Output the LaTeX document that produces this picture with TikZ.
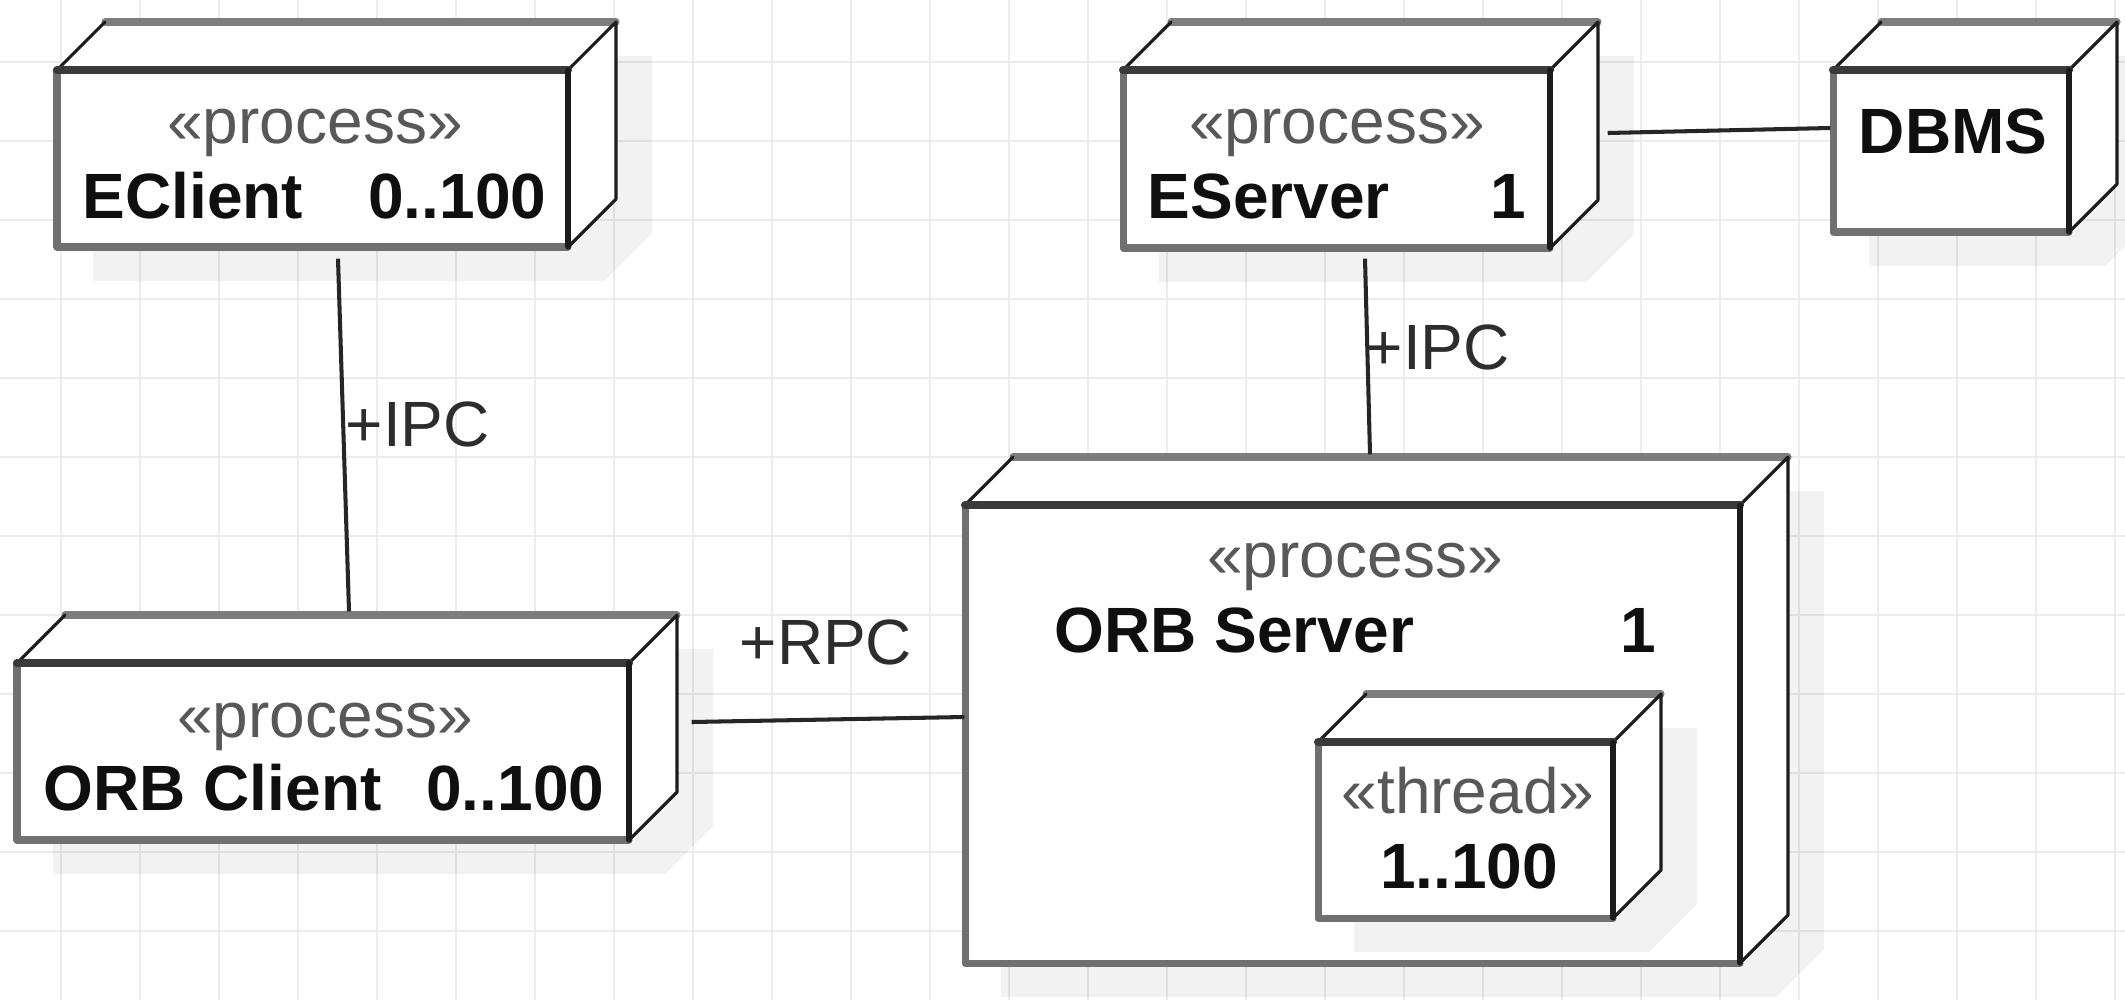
\documentclass[tikz,border=0pt]{standalone}
\usepackage{fontspec}
\setmainfont{Liberation Sans}
\usetikzlibrary{calc,fit}
\definecolor{gridc}{RGB}{236,236,236}
\definecolor{boxgray}{RGB}{112,112,112}
\definecolor{backgray}{RGB}{125,125,125}
\definecolor{boxdark}{RGB}{58,58,58}
\definecolor{edgeblack}{RGB}{28,28,28}
\definecolor{stereoc}{RGB}{88,88,88}
\definecolor{labelc}{RGB}{45,45,45}
\definecolor{connc}{RGB}{38,38,38}
\definecolor{namec}{RGB}{15,15,15}
\tikzset{
  frontgray/.style={draw=boxgray, line width=2pt, line cap=round, line join=round},
  fronttop/.style={draw=boxdark, line width=2.3pt, line cap=round},
  frontright/.style={draw=edgeblack, line width=1.5pt, line cap=round},
  backtop/.style={draw=backgray, line width=2pt, line cap=round},
  thinedge/.style={draw=edgeblack, line width=0.9pt, line cap=round, line join=round},
  shadowfill/.style={fill=black, fill opacity=0.05},
  stereo/.style={text=stereoc, font=\fontsize{18.2pt}{22pt}\selectfont, inner sep=0pt, anchor=base},
  nametext/.style={text=namec, font=\fontsize{18.2pt}{22pt}\selectfont\bfseries, inner sep=0pt},
  conlabel/.style={text=labelc, font=\fontsize{18.2pt}{22pt}\selectfont, inner sep=0pt, anchor=base west},
  conn/.style={draw=connc, line width=1.15pt},
}
\newcommand{\umlcube}[5]{%
  \fill[shadowfill] ({#2+36},{#3+34}) -- ({#2+84},{#3-14}) -- ({#4+84},{#3-14}) -- ({#4+84},{#5-14}) -- ({#4+36},{#5+34}) -- ({#2+36},{#5+34}) -- cycle;
  \fill[white] (#2,#3) -- ({#2+48},{#3-48}) -- ({#4+48},{#3-48}) -- ({#4+48},{#5-48}) -- (#4,#5) -- (#2,#5) -- cycle;
  \draw[backtop] ({#2+48},{#3-48}) -- ({#4+48},{#3-48});
  \draw[thinedge] (#2,#3) -- ({#2+48},{#3-48});
  \draw[thinedge] (#4,#3) -- ({#4+48},{#3-48}) -- ({#4+48},{#5-48}) -- (#4,#5);
  \draw[frontgray] (#4,#5) -- (#2,#5) -- (#2,#3);
  \draw[fronttop] (#2,#3) -- (#4,#3);
  \draw[frontright] (#4,#3) -- (#4,#5);
  \coordinate (#1-nw) at (#2,#3);
  \coordinate (#1-se) at (#4,#5);
  \node[fit=(#1-nw)(#1-se), inner sep=0pt] (#1) {};
}
\begin{document}
\begin{tikzpicture}[x=0.01cm, y=-0.01cm]
\useasboundingbox (0,0) rectangle (2125,1000);
\fill[white] (0,0) rectangle (2125,1000);
% grid
\foreach \gx in {0,...,26} {
  \draw[gridc, line width=0.8pt] ({61+79*\gx},0) -- ({61+79*\gx},1000);
}
\foreach \gy in {0,...,12} {
  \draw[gridc, line width=0.8pt] (0,{62+79*\gy}) -- (2125,{62+79*\gy});
}
% boxes
\umlcube{eclient}{57}{70}{568}{247}
\umlcube{eserver}{1123}{70}{1550}{248}
\umlcube{dbms}{1833}{70}{2069}{232}
\umlcube{orbclient}{17}{663}{629}{840}
\umlcube{orbserver}{965}{505}{1740}{963}
\umlcube{thread}{1318}{742}{1613}{918}
% texts
\node[stereo] (eclientst) at (315,143) {«process»};
\node[nametext, anchor=base west] (eclientnm) at (82,218) {EClient};
\node[nametext, anchor=base east] (eclientmu) at (547,218) {0..100};
\node[stereo] (eserverst) at (1337,143) {«process»};
\node[nametext, anchor=base west] (eservernm) at (1147,218) {EServer};
\node[nametext, anchor=base east] (eservermu) at (1527,218) {1};
\node[nametext, anchor=base] (dbmsnm) at (1953,153) {DBMS};
\node[stereo] (orbclientst) at (325,737) {«process»};
\node[nametext, anchor=base west] (orbclientnm) at (43,810) {ORB Client};
\node[nametext, anchor=base east] (orbclientmu) at (605,810) {0..100};
\node[stereo] (orbserverst) at (1355,577) {«process»};
\node[nametext, anchor=base west] (orbservernm) at (1054,652) {ORB Server};
\node[nametext, anchor=base east] (orbservermu) at (1657,652) {1};
\node[stereo] (threadst) at (1468,813) {«thread»};
\node[nametext, anchor=base] (threadmu) at (1469,888) {1..100};
% connectors
\coordinate (c1a) at ($(eclient.south)+(25.5,11)$);
\coordinate (c1b) at ($(orbclient.north)+(26,-51)$);
\draw[conn] (c1a) -- (c1b);
\coordinate (c2a) at ($(eserver.south)+(28.5,10)$);
\coordinate (c2b) at ($(orbserver.north)+(17.5,-50)$);
\draw[conn] (c2a) -- (c2b);
\coordinate (c3a) at ($(eserver.east)+(57,-26)$);
\coordinate (c3b) at ($(dbms.west)+(-2,-23)$);
\draw[conn] (c3a) -- (c3b);
\coordinate (c4a) at ($(orbclient.east)+(62,-29.5)$);
\coordinate (c4b) at ($(orbserver.west)+(0,-17)$);
\draw[conn] (c4a) -- (c4b);
% connector labels
\node[conlabel] (lipc1) at (345,446) {+IPC};
\node[conlabel] (lipc2) at (1365,369) {+IPC};
\node[conlabel] (lrpc) at (739,664) {+RPC};
\end{tikzpicture}
\end{document}
